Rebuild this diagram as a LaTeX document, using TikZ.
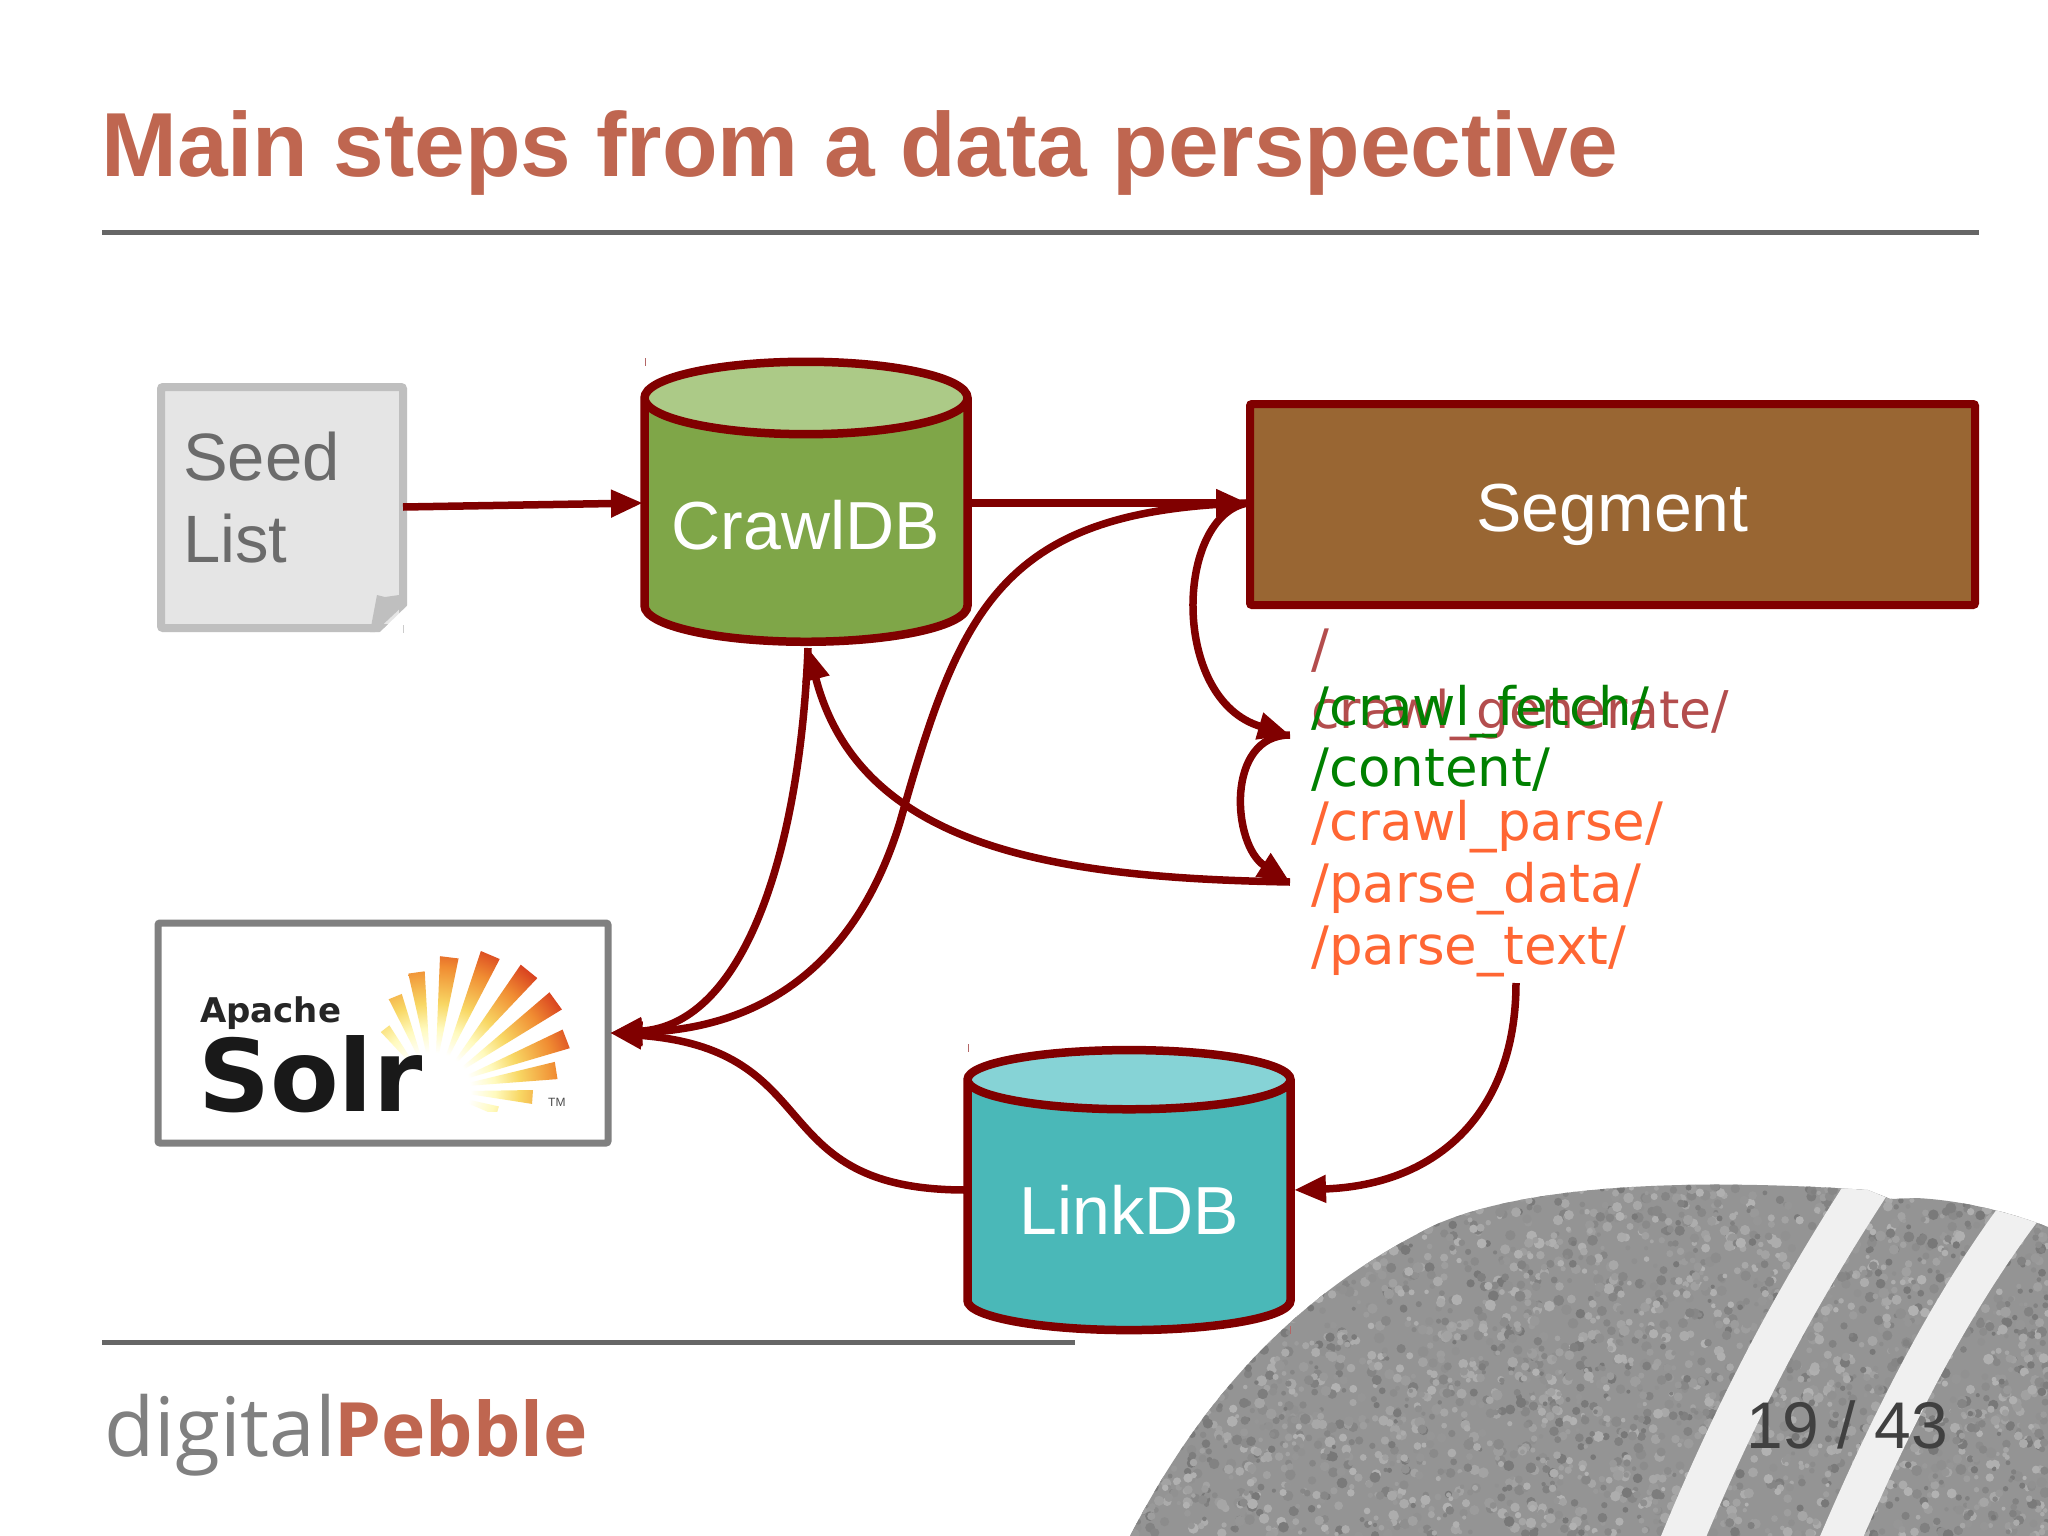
\documentclass[tikz,border=0pt]{standalone}
\usepackage{fontspec}
\setmainfont{Liberation Sans}
\newfontfamily\dvfont{DejaVu Sans}
\newfontfamily\logofont{Open Sans}
\usetikzlibrary{arrows.meta,shapes.geometric,calc}
\definecolor{arrowred}{HTML}{800000}
\definecolor{titlecol}{HTML}{BF6650}
\definecolor{rulecol}{HTML}{666666}
\definecolor{genred}{HTML}{B34D4D}
\definecolor{fetchgreen}{HTML}{008000}
\definecolor{parseorange}{HTML}{FF6633}
\definecolor{sunA}{RGB}{255,250,190}
\definecolor{sunB}{RGB}{248,215,100}
\definecolor{sunC}{RGB}{240,140,50}
\definecolor{sunD}{RGB}{215,60,30}
\newcommand\fsz[1]{\fontsize{#1}{#1}\selectfont}
\pgfdeclareradialshading{sunrad}{\pgfpoint{0bp}{0bp}}{%
 color(0bp)=(white);color(6bp)=(white);color(10bp)=(sunA);
 color(14bp)=(sunB);color(20bp)=(sunC);color(25bp)=(sunD);color(50bp)=(sunD)}
\tikzset{
 x=1pt,y=-1pt,
 link/.style={draw=arrowred,line width=7.5pt,-{Triangle[length=32pt,width=26pt]}},
 cyl/.style={cylinder,shape border rotate=90,draw=arrowred,line width=8.5pt,aspect=0.27,outer sep=0pt,
   cylinder uses custom fill,text=white,font=\fsz{68},inner sep=0pt,minimum width=323pt,minimum height=280pt,
   text height=55pt,text depth=0pt},
 pathline/.style={anchor=base west,font=\dvfont\fsz{53},inner sep=0pt},
 tick/.style={line width=0.8pt,draw=arrowred!60},
 plain/.style={anchor=base west,inner sep=0pt},
}
\begin{document}
\begin{tikzpicture}
\useasboundingbox (0,0) rectangle (2048,1536);
\fill[white] (0,0) rectangle (2048,1536);
% pebble
\begin{scope}
\clip (1130,1536) .. controls (1190,1420) and (1280,1300) .. (1437,1224)
 .. controls (1540,1180) and (1720,1180) .. (1868,1190) -- (1890,1199) -- (1916,1198)
 .. controls (1960,1200) and (2010,1212) .. (2048,1227) -- (2048,1536) -- cycle;
\fill[black!42] (1100,1170) rectangle (2048,1536);
\pgfmathsetseed{4242}
\foreach \i in {1,...,3500}{
 \pgfmathsetmacro\px{1130+918*rnd}
 \pgfmathsetmacro\py{1185+351*rnd}
 \pgfmathsetmacro\pc{int(30+rnd*24)}
 \pgfmathsetmacro\pr{2+rnd*3.5}
 \fill[black!\pc] (\px,\py) circle (\pr);
}
\draw[line width=42pt,color=black!6] (1872,1180) .. controls (1800,1290) and (1740,1400) .. (1680,1545);
\draw[line width=40pt,color=black!6] (2025,1205) .. controls (1960,1290) and (1900,1400) .. (1838,1545);
\end{scope}
% title and rules
\node[plain,text=titlecol,font=\bfseries\fsz{91}] (title) at (101,176) {Main steps from a data perspective};
\draw[rulecol,line width=5pt] (102,232) -- (1979,232);
\draw[rulecol,line width=5pt] (102,1342) -- (1075,1342);
\node[plain,text=black!50,font=\logofont\fsz{82}] (logoa) at (104,1456) {digital};
\node[plain,text=titlecol,font=\logofont\bfseries\fsz{75}] (logob) at (334,1456) {Pebble};
\node[plain,text=black!75,font=\fsz{66}] (page) at (1746,1448) {19 / 43};
% seed list
\node[draw=black!25,fill=black!10,line width=8pt,rounded corners=2pt,outer sep=0pt,minimum width=242pt,minimum height=241pt,anchor=north west] (seed) at (161,387) {};
\node[plain,text=black!58,font=\fsz{67}] (seedA) at (183,480) {Seed};
\node[plain,text=black!58,font=\fsz{67}] (seedB) at (183,562) {List};
\fill[white] (375,637) -- (412,637) -- (412,601) -- cycle;
\fill[black!25] (370,632) -- (377,595) -- (385,597) -- (399,595) -- (407,602) -- (375,632) -- cycle;
\draw[tick,draw=black!20] (403,625) -- (403,633);
% solr
\node[draw=black!50,fill=white,line width=7pt,rounded corners=2pt,outer sep=0pt,minimum width=450pt,minimum height=220pt,anchor=north west] (solr) at (158,923) {};
\begin{scope}
\clip (380,940) rectangle (590,1111);
\foreach \a/\r in {128/78,112/101,98/119,83/134,67/147,51/153,36/152,21/143,9/125,-4/100,-18/68,-45/45}{
  \begin{scope}
  \clip ($(433,1090)+(-\a:18)$) -- ($(433,1090)+(-\a-4:\r)$) -- ($(433,1090)+(-\a+4:\r)$) -- cycle;
  \shade[shading=sunrad] (433,1090) circle (155);
  \end{scope}
}
\end{scope}
\node[plain,text=black!85,font=\dvfont\bfseries\fsz{34}] (apache) at (200,1022) {Apache};
\node[plain,text=black!90,font=\dvfont\bfseries\fsz{100}] (solrword) at (198,1111) {Solr};
\node[plain,text=black!70,font=\fsz{12}] (tm) at (548,1106) {TM};
% cylinders
\node[cyl,cylinder body fill={rgb,255:red,127;green,166;blue,72},cylinder end fill={rgb,255:red,172;green,202;blue,135}] (crawl) at (806,522) {CrawlDB};
\node[cyl,cylinder body fill={rgb,255:red,74;green,184;blue,184},cylinder end fill={rgb,255:red,134;green,211;blue,214}] (linkdb) at (1129,1207) {LinkDB};
\draw[tick] (645,358) -- (645,366);
\draw[tick] (968,1044) -- (968,1052);
\draw[tick] (1290,1326) -- (1290,1334);
% segment
\node[draw=arrowred,fill={rgb,255:red,153;green,102;blue,51},line width=8pt,rounded corners=2pt,outer sep=0pt,minimum width=725pt,minimum height=201pt,
  text=white,font=\fsz{68},anchor=north west,text height=63pt,text depth=10pt] (segment) at (1250,404) {Segment};
% directory text
\node[pathline,text=genred] (slash) at (1311,667) {/};
\node[pathline,text=genred,font=\dvfont\fsz{52}] (gen) at (1311,728) {crawl\_generate/};
\node[pathline,text=fetchgreen] (fetch) at (1311,725) {/crawl\_fetch/};
\node[pathline,text=fetchgreen] (content) at (1311,786) {/content/};
\node[pathline,text=parseorange] (parse) at (1311,840) {/crawl\_parse/};
\node[pathline,text=parseorange] (pdata) at (1311,902) {/parse\_data/};
\node[pathline,text=parseorange] (ptext) at (1311,964) {/parse\_text/};
\coordinate (fetchIn) at (1290,735);
\coordinate (parseIn) at (1290,882);
\coordinate (textOut) at (1516,983);
\coordinate (crawlE) at (966,503);
\coordinate (crawlS) at (808,648);
\coordinate (linkW) at (966,1190);
\coordinate (linkE) at (1294,1190);
\coordinate (solrE) at (610,1033);
\coordinate (segW) at (1248,503);
\coordinate (seedE) at (403,507);
\coordinate (crawlW) at (643,503);
% connectors
\draw[link] (seedE) -- (crawlW);
\draw[link] (crawlE) -- (segW);
\draw[link] (segW) .. controls (1175,515) and (1170,700) .. (fetchIn);
\draw[link] (fetchIn) .. controls (1225,735) and (1232,845) .. (parseIn);
\draw[link] (parseIn) .. controls (1060,878) and (860,850) .. (crawlS);
\draw[link] (crawlS) .. controls (800,850) and (745,1025) .. (solrE);
\draw[link] (segW) .. controls (1000,510) and (960,610) .. (900,822) .. controls (850,985) and (740,1030) .. (solrE);
\draw[link] (linkW) .. controls (760,1190) and (830,1050) .. (solrE);
\draw[link] (textOut) .. controls (1516,1110) and (1440,1185) .. (linkE);
\end{tikzpicture}
\end{document}
